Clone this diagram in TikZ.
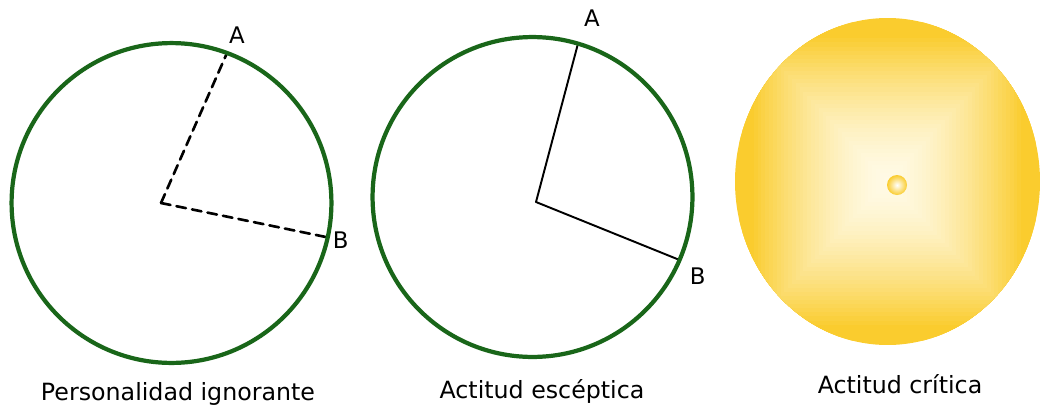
\documentclass[tikz,border=0pt]{standalone}
\usepackage{fontspec}
\setmainfont{DejaVu Sans}
\usetikzlibrary{calc}
\usepackage{tkz-euclide}
\definecolor{CircleClr}{rgb}{0.1,0.4,0.1}
\definecolor{GlowClr}{rgb}{0.98,0.8,0.18}
\definecolor{CoreClr}{rgb}{1,0.98,0.9}

\begin{document}
\begin{tikzpicture}[x=0.02cm,y=0.02cm,font=\fontsize{13.5}{15}\selectfont]
\useasboundingbox (0,0) rectangle (1041,414);
\tkzSetUpLine[line width=1.1pt,color=black]
\tikzset{ptlabel/.style={anchor=center,font=\fontsize{13}{15}\selectfont}}

\tkzDefPoints{171.5/211/K,161/211/O,227/361/A,327.8/176.6/B}
\tkzDefPoints{532.5/217/K',536/212/O',578/370.4/A',679.6/154/B'}
\tkzDefPoints{887.5/232.5/S,897/229/C}

% glow, square gradient clipped to the disc
\begin{scope}
\clip (S) ellipse (152.5 and 163.5);
\foreach \k in {40,39,...,1}{
  \pgfmathsetmacro\glowpct{100*min(1,(\k/36)^1.6)}
  \fill[GlowClr!\glowpct!CoreClr] ($(S)+(-3.82*\k,-4.09*\k)$) rectangle ($(S)+(3.82*\k,4.09*\k)$);
}
\end{scope}
\shade[inner color=white,outer color=GlowClr] (C) circle (10);

\tkzDrawSegments[line width=1.5pt,dash pattern=on 5.5pt off 3.5pt](O,A O,B)
\tkzDrawSegments(O',A' O',B')

\tkzDrawCircle[color=CircleClr,line width=2.4pt](K,A)
\tkzDrawCircle[color=CircleClr,line width=2.4pt](K',A')

\tkzLabelPoint[ptlabel,xshift=0.2cm,yshift=0.36cm](A){A}
\tkzLabelPoint[ptlabel,xshift=0.26cm,yshift=-0.06cm](B){B}
\tkzLabelPoint[ptlabel,xshift=0.28cm,yshift=0.5cm](A'){A}
\tkzLabelPoint[ptlabel,xshift=0.36cm,yshift=-0.32cm](B'){B}

\node (capK) [anchor=base] at (178,14) {Personalidad ignorante};
\node (capK') [anchor=base] at (542,16) {Actitud escéptica};
\node (capS) [anchor=base] at (900,21) {Actitud crítica};

\end{tikzpicture}
\end{document}
